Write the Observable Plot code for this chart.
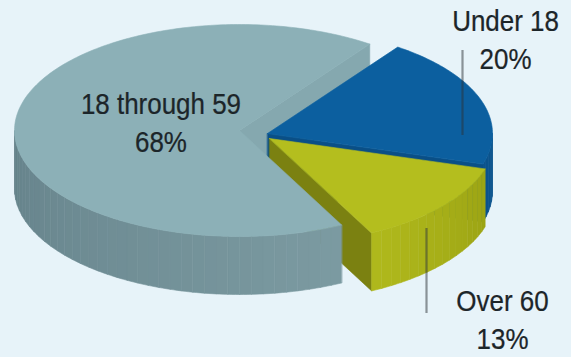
<!DOCTYPE html>
<html>
<head>
<meta charset="utf-8">
<script src="https://cdn.jsdelivr.net/npm/d3@7"></script>
<script src="https://cdn.jsdelivr.net/npm/@observablehq/plot@0.6"></script>
<style>
  html, body { margin: 0; padding: 0; background: #e7f3f9; }
  #chart { width: 571px; height: 357px; overflow: hidden; }
</style>
</head>
<body>
<div id="chart"></div>
<script>
// ---- data ----
const categories = ["18 through 59", "Under 18", "Over 60"];
const shares = [68, 20, 13];

// ---- styles ----
const topColors  = ["#8cb0b7", "#0c5f9f", "#b4be1e"];
const wallLight  = ["#88a8ae", "#0b548e", "#b0b91c"];
const wallDark   = ["#65828a", "#0a4c82", "#9ca414"];
const faceColors = ["#85a8af", "#0a4f86", "#7b8111"];
const textColor = "#1c2529";
const font = "'Liberation Sans', Arial, sans-serif";

// ---- layout ----
const W = 571, H = 357;
const rx = 225, ry = 106, depth = 58, startDeg = 63;
const centers = [[239, 130], [267, 133], [269, 138]];
const rad = Math.PI / 180;

const total = d3.sum(shares);
let acc = startDeg;
const slices = categories.map((c, i) => {
  const span = shares[i] / total * 360;
  const s = {i, name: c, share: shares[i], t0: acc, t1: acc + span, cx: centers[i][0], cy: centers[i][1]};
  acc += span;
  return s;
});

const pt = (s, t, dz = 0) => ({x: s.cx + rx * Math.cos(t * rad), y: s.cy + ry * Math.sin(t * rad) + dz});
function arc(s, a, b, dz = 0) {
  const n = Math.max(2, Math.ceil(Math.abs(b - a)));
  return d3.range(n + 1).map(k => pt(s, a + (b - a) * k / n, dz));
}
function topFace(s) { return [{x: s.cx, y: s.cy}, ...arc(s, s.t0, s.t1)]; }
function endFace(s, t) {
  const r = pt(s, t);
  return [{x: s.cx, y: s.cy}, r, {x: r.x, y: r.y + depth}, {x: s.cx, y: s.cy + depth}];
}
function wallStrips(s) {
  const out = [];
  for (const k of [0, 360]) {
    const a = Math.max(s.t0, k), b = Math.min(s.t1, k + 180);
    if (b <= a) continue;
    const n = Math.ceil((b - a) / 3);
    for (let j = 0; j < n; j++) {
      const ta = a + (b - a) * j / n, tb = a + (b - a) * (j + 1) / n;
      const tm = (ta + tb) / 2 - k;
      const f = s.i === 2 ? 1 - (tm - 17) / 46 : Math.max(0, Math.min(1, tm / 180));
      const col = d3.interpolateRgb(wallLight[s.i], wallDark[s.i])(f);
      out.push({color: col, pts: [...arc(s, ta, tb), ...arc(s, tb, ta, depth)]});
    }
  }
  return out;
}

const marks = [];
const poly = (pts, color, sw = 0.6) =>
  Plot.line(pts, {x: "x", y: "y", fill: color, stroke: color, strokeWidth: sw, curve: "linear-closed"});
const walls = s => wallStrips(s).map(w => poly(w.pts, w.color));

const [gray, blue, yellow] = slices;
// painter's order (back to front)
marks.push(poly(endFace(gray, gray.t1), faceColors[0]));
marks.push(...walls(blue));
marks.push(poly(endFace(blue, blue.t1), faceColors[1]));
marks.push(poly(endFace(yellow, yellow.t1), faceColors[2]));
marks.push(...walls(gray));
marks.push(poly(topFace(gray), topColors[0]));
marks.push(poly(topFace(blue), topColors[1]));
marks.push(...walls(yellow));
marks.push(poly(topFace(yellow), topColors[2]));

// labels
const labelOf = s => `${s.name}\n${s.share}%`;
const gm = (gray.t0 + gray.t1) / 2;
const inside = [{
  label: labelOf(gray),
  x: gray.cx + 0.35 * rx * Math.cos(gm * rad),
  y: gray.cy + 0.35 * ry * Math.sin(gm * rad) - 41
}];
const outside = [
  {label: labelOf(blue), x: 505, y: 4, lx: 462, ly1: 50, ly2: 135},
  {label: labelOf(yellow), x: 502, y: 284, lx: 426, ly1: 228, ly2: 313}
];

const textOpts = {x: "x", y: "y", text: "label", lineAnchor: "top", lineHeight: 1.3, fontSize: 29.5,
  fill: textColor, stroke: textColor, strokeWidth: 0.25, fontFamily: font};
marks.push(Plot.ruleX(outside, {x: "lx", y1: "ly1", y2: "ly2", stroke: "#2b3236", strokeOpacity: 0.5, strokeWidth: 2.2}));
marks.push(Plot.text(inside, textOpts));
marks.push(Plot.text(outside, {...textOpts, lineHeight: 1.28}));

const chart = Plot.plot({
  width: W, height: H,
  margin: 0,
  x: {domain: [0, W], range: [0, W], axis: null},
  y: {domain: [0, H], range: [0, H], axis: null},
  style: {background: "#e7f3f9", overflow: "hidden"},
  marks
});
// condensed lettering like the reference typeface
chart.querySelectorAll('g[aria-label="text"] text').forEach(t => {
  t.setAttribute("transform", (t.getAttribute("transform") || "") + " scale(0.88,1)");
});
document.getElementById("chart").append(chart);
</script>
</body>
</html>
